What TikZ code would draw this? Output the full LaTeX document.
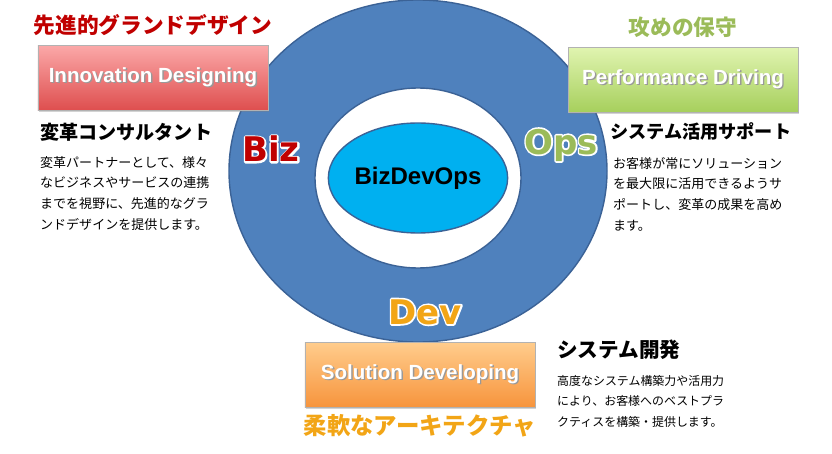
\documentclass[tikz,border=0pt]{standalone}
\usepackage{fontspec}
\setmainfont{Noto Sans CJK JP}
\newfontfamily\boxfont{Liberation Sans}
\newfontfamily\tagfont{DejaVu Sans}
\usepackage{tikz}
\usetikzlibrary{shapes.geometric,shadows,positioning}
\definecolor{ringblue}{HTML}{4F81BD}
\definecolor{ringedge}{HTML}{3B6296}
\definecolor{corecyan}{HTML}{00B0F0}
\definecolor{bizred}{HTML}{C00000}
\definecolor{opsgreen}{HTML}{9BBB59}
\definecolor{devorange}{HTML}{F2A516}
\definecolor{innovtop}{HTML}{FBA8A8}
\definecolor{innovbot}{HTML}{DE4E4E}
\definecolor{perftop}{HTML}{E0F4B0}
\definecolor{perfbot}{HTML}{A6CF5C}
\definecolor{soltop}{HTML}{FFCC8C}
\definecolor{solbot}{HTML}{F7943C}
\newcommand{\shadowtxt}[1]{\makebox[0pt][l]{\hspace{1.2pt}\raisebox{-1.2pt}{\textcolor{black!40}{#1}}}#1}
% white rim behind the tag letters: stroke-only copy, then the filled letters
\newcommand{\rimtxt}[1]{\makebox[0pt][l]{\special{pdf:literal direct 1 1 1 RG 2.8 w 1 j 1 Tr}#1\special{pdf:literal direct 0 Tr}}#1}
\tikzset{
    ring/.style = {draw=ringedge, ellipse, line width=1.2pt, inner sep=0pt},
    pillar/.style = {rectangle, draw=white!70!black, line width=0.4pt,
        minimum width=6.9cm, minimum height=1.95cm,
        drop shadow={shadow xshift=0.6pt, shadow yshift=-1.5pt, opacity=0.35},
        font=\boxfont\bfseries\fontsize{17.5}{19}\selectfont, text=white},
    tagtxt/.style = {font=\tagfont\bfseries\fontsize{29}{31}\selectfont},
    motto/.style = {font=\fontsize{18.5}{20}\selectfont\bfseries},
    head/.style = {anchor=west, inner sep=0pt, font=\fontsize{16.3}{18}\selectfont\bfseries},
    body/.style = {anchor=north west, inner sep=0pt, align=left,
        font=\fontsize{11.1}{17.6}\selectfont}
}
\begin{document}
\begin{tikzpicture}[x=0.03cm, y=-0.03cm]
\useasboundingbox (0,0) rectangle (832,454);

% rings
\node[ring, fill=ringblue, minimum width=11.34cm, minimum height=10.26cm] (ring) at (418,171) {};
\node[ring, fill=white, minimum width=6.18cm, minimum height=5.4cm] (hole) at (418,178) {};
\node[ring, fill=corecyan, minimum width=4.38cm, minimum height=3.3cm,
    font=\boxfont\bfseries\fontsize{20.5}{22}\selectfont] (core) at (418,178) {BizDevOps};

% three pillars
\node[pillar, top color=innovtop, bottom color=innovbot] (innov) at (153,78)
    {\shadowtxt{Innovation Designing}};
\node[pillar, top color=perftop, bottom color=perfbot] (perf) at (683,80)
    {\shadowtxt{Performance Driving}};
\node[pillar, top color=soltop, bottom color=solbot] (sol) at (420,375)
    {\shadowtxt{Solution Developing}};

% tags on the ring
\node[tagtxt, text=bizred] (biz) at (271,149) {\rimtxt{Biz}};
\node[tagtxt, text=opsgreen] (ops) at (561,145) {\rimtxt{Ops}};
\node[tagtxt, text=devorange] (dev) at (425,312) {\rimtxt{Dev}};

% mottos
\node[motto, text=bizred, above=5pt of innov] (innovmotto) {先進的グランドデザイン};
\node[motto, text=opsgreen, above=5pt of perf] (perfmotto) {攻めの保守};
\node[motto, text=devorange, below=2pt of sol, font=\fontsize{20}{22}\selectfont\bfseries] (solmotto) {柔軟なアーキテクチャ};

% descriptions
\node[head] (innovhead) at (40,132) {変革コンサルタント};
\node[body] (innovbody) at (40,156) {変革パートナーとして、様々\\なビジネスやサービスの連携\\までを視野に、先進的なグラ\\ンドデザインを提供します。};
\node[head, font=\fontsize{15.5}{18}\selectfont\bfseries] (perfhead) at (610,131) {システム活用サポート};
\node[body] (perfbody) at (613,157) {お客様が常にソリューション\\を最大限に活用できるようサ\\ポートし、変革の成果を高め\\ます。};
\node[head, font=\fontsize{17.6}{19}\selectfont\bfseries] (solhead) at (557,350) {システム開発};
\node[body, font=\fontsize{10.2}{17.6}\selectfont] (solbody) at (557,375) {高度なシステム構築力や活用力\\により、お客様へのベストプラ\\クティスを構築・提供します。};
\end{tikzpicture}
\end{document}
